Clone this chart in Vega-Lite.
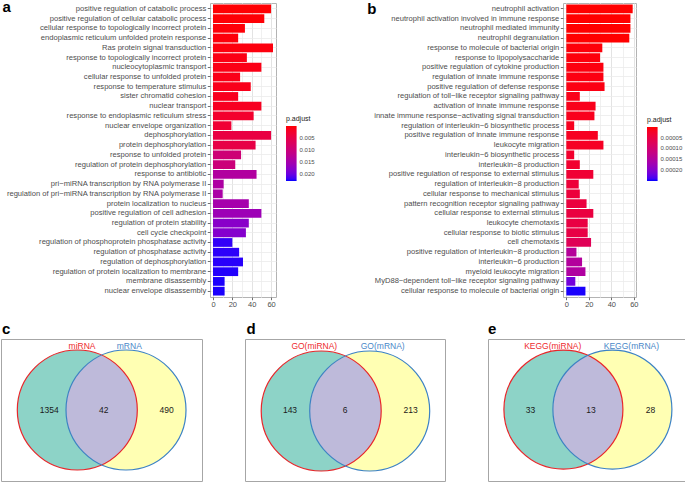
{
  "$schema": "https://vega.github.io/schema/vega-lite/v6.json",
  "background": "white",
  "padding": {"left": 0, "right": 0, "top": -1, "bottom": 0},
  "config": {
    "font": "Liberation Sans",
    "title": {"font": "Liberation Sans", "color": "black"},
    "axis": {"labelFont": "Liberation Sans"},
    "legend": {"labelFont": "Liberation Sans", "titleFont": "Liberation Sans"}
  },
  "spacing": 12,
  "resolve": {"scale": {"color": "independent", "fill": "independent", "stroke": "independent"}},
  "vconcat": [
    {
      "spacing": 0,
      "resolve": {"scale": {"color": "independent", "fill": "independent", "stroke": "independent"}},
      "hconcat": [
        {
          "width": 0.01,
          "height": 294,
          "view": {"stroke": null},
          "data": {"values": []},
          "mark": {"type": "point"}
        },
        {
          "width": 66,
          "height": 294,
          "title": {"text": "a", "anchor": "start", "frame": "bounds", "fontSize": 15, "fontWeight": "bold", "offset": -24, "baseline": "alphabetic", "dx": -3},
          "view": {"stroke": "#B3B3B3", "strokeWidth": 1},
          "data": {"values": [
            {"term": "positive regulation of catabolic process", "count": 60, "padj": 0.0003},
            {"term": "positive regulation of cellular catabolic process", "count": 53, "padj": 0.0004},
            {"term": "cellular response to topologically incorrect protein", "count": 33, "padj": 0.0005},
            {"term": "endoplasmic reticulum unfolded protein response", "count": 26, "padj": 0.0006},
            {"term": "Ras protein signal transduction", "count": 62, "padj": 0.0007},
            {"term": "response to topologically incorrect protein", "count": 35, "padj": 0.0010},
            {"term": "nucleocytoplasmic transport", "count": 50, "padj": 0.0011},
            {"term": "cellular response to unfolded protein", "count": 28, "padj": 0.0012},
            {"term": "response to temperature stimulus", "count": 39, "padj": 0.0014},
            {"term": "sister chromatid cohesion", "count": 26, "padj": 0.0016},
            {"term": "nuclear transport", "count": 50, "padj": 0.0018},
            {"term": "response to endoplasmic reticulum stress", "count": 42, "padj": 0.0027},
            {"term": "nuclear envelope organization", "count": 19, "padj": 0.0034},
            {"term": "dephosphorylation", "count": 60, "padj": 0.0046},
            {"term": "protein dephosphorylation", "count": 44, "padj": 0.0050},
            {"term": "response to unfolded protein", "count": 29, "padj": 0.0096},
            {"term": "regulation of protein dephosphorylation", "count": 23, "padj": 0.0100},
            {"term": "response to antibiotic", "count": 45, "padj": 0.0137},
            {"term": "pri−miRNA transcription by RNA polymerase II", "count": 11, "padj": 0.0141},
            {"term": "regulation of pri−miRNA transcription by RNA polymerase II", "count": 10, "padj": 0.0144},
            {"term": "protein localization to nucleus", "count": 37, "padj": 0.0150},
            {"term": "positive regulation of cell adhesion", "count": 50, "padj": 0.0160},
            {"term": "regulation of protein stability", "count": 37, "padj": 0.0178},
            {"term": "cell cycle checkpoint", "count": 34, "padj": 0.0182},
            {"term": "regulation of phosphoprotein phosphatase activity", "count": 20, "padj": 0.0222},
            {"term": "regulation of phosphatase activity", "count": 27, "padj": 0.0223},
            {"term": "regulation of dephosphorylation", "count": 31, "padj": 0.0224},
            {"term": "regulation of protein localization to membrane", "count": 26, "padj": 0.0225},
            {"term": "membrane disassembly", "count": 12, "padj": 0.0226},
            {"term": "nuclear envelope disassembly", "count": 12, "padj": 0.0226}
          ]},
          "mark": {"type": "bar"},
          "encoding": {
            "y": {"field": "term", "type": "nominal", "sort": null,
              "scale": {"paddingInner": 0.1, "paddingOuter": 0.15},
              "axis": {"title": null, "domain": false, "tickSize": 2.7, "tickColor": "#333333", "tickWidth": 0.7, "labelFontSize": 7.6, "labelColor": "#4D4D4D", "labelPadding": 1.5, "grid": true, "gridColor": "#EBEBEB", "gridWidth": 0.8, "bandPosition": 0.5, "labelLimit": 0, "labelOverlap": false}},
            "x": {"field": "count", "type": "quantitative",
              "scale": {"domain": [-3.1, 65.1], "nice": false, "zero": false},
              "axis": {"title": null, "values": [0, 10, 20, 30, 40, 50, 60], "labelExpr": "datum.value % 20 === 0 ? datum.label : ''", "tickOpacity": {"condition": {"test": "datum.value % 20 === 0", "value": 1}, "value": 0}, "gridColor": {"condition": {"test": "datum.value % 20 === 0", "value": "#E3E3E3"}, "value": "#F0F0F0"}, "domain": false, "tickSize": 2.7, "tickColor": "#333333", "tickWidth": 0.7, "labelFontSize": 7.5, "labelColor": "#4D4D4D", "labelPadding": 1.2, "labelFlush": false, "labelOverlap": false}},
            "color": {"field": "padj", "type": "quantitative",
              "scale": {"domain": [0.0228, 0.0002], "range": ["#0000FF", "#FF0000"], "interpolate": "lab"},
              "legend": {"title": "p.adjust", "orient": "none", "legendX": 76, "legendY": 112, "padding": 0, "titleFontSize": 7, "titleFontWeight": "normal", "titleColor": "#1A1A1A", "titlePadding": 4, "labelFontSize": 6, "labelColor": "#4D4D4D", "labelOffset": 3, "gradientLength": 55, "gradientThickness": 10.6, "gradientStrokeWidth": 0, "values": [0.005, 0.01, 0.015, 0.02], "format": ".3f"}}
          }
        },
        {
          "width": 50,
          "height": 294,
          "view": {"stroke": null},
          "data": {"values": []},
          "mark": {"type": "point"}
        },
        {
          "width": 73,
          "height": 294,
          "title": {"text": "b", "anchor": "start", "frame": "bounds", "fontSize": 15, "fontWeight": "bold", "offset": -26, "baseline": "alphabetic", "dx": -6.5},
          "view": {"stroke": "#B3B3B3", "strokeWidth": 1},
          "data": {"values": [
            {"term": "neutrophil activation", "count": 59, "padj": 0.000000001},
            {"term": "neutrophil activation involved in immune response", "count": 57, "padj": 0.000000001},
            {"term": "neutrophil mediated immunity", "count": 57, "padj": 0.0000000012},
            {"term": "neutrophil degranulation", "count": 56, "padj": 0.0000000015},
            {"term": "response to molecule of bacterial origin", "count": 32, "padj": 0.000004},
            {"term": "response to lipopolysaccharide", "count": 30, "padj": 0.000005},
            {"term": "positive regulation of cytokine production", "count": 33, "padj": 0.000006},
            {"term": "regulation of innate immune response", "count": 33, "padj": 0.000007},
            {"term": "positive regulation of defense response", "count": 34, "padj": 0.000008},
            {"term": "regulation of toll−like receptor signaling pathway", "count": 12, "padj": 0.000012},
            {"term": "activation of innate immune response", "count": 26, "padj": 0.000013},
            {"term": "innate immune response−activating signal transduction", "count": 25, "padj": 0.000015},
            {"term": "regulation of interleukin−6 biosynthetic process", "count": 7, "padj": 0.000016},
            {"term": "positive regulation of innate immune response", "count": 28, "padj": 0.000018},
            {"term": "leukocyte migration", "count": 33, "padj": 0.00002},
            {"term": "interleukin−6 biosynthetic process", "count": 7, "padj": 0.000028},
            {"term": "interleukin−8 production", "count": 12, "padj": 0.00003},
            {"term": "positive regulation of response to external stimulus", "count": 24, "padj": 0.000035},
            {"term": "regulation of interleukin−8 production", "count": 11, "padj": 0.00004},
            {"term": "cellular response to mechanical stimulus", "count": 12, "padj": 0.000042},
            {"term": "pattern recognition receptor signaling pathway", "count": 18, "padj": 0.000045},
            {"term": "cellular response to external stimulus", "count": 24, "padj": 0.000047},
            {"term": "leukocyte chemotaxis", "count": 19, "padj": 0.00005},
            {"term": "cellular response to biotic stimulus", "count": 19, "padj": 0.000052},
            {"term": "cell chemotaxis", "count": 22, "padj": 0.00007},
            {"term": "positive regulation of interleukin−8 production", "count": 9, "padj": 0.000145},
            {"term": "interleukin−6 production", "count": 14, "padj": 0.000148},
            {"term": "myeloid leukocyte migration", "count": 17, "padj": 0.000152},
            {"term": "MyD88−dependent toll−like receptor signaling pathway", "count": 8, "padj": 0.000215},
            {"term": "cellular response to molecule of bacterial origin", "count": 17, "padj": 0.00025}
          ]},
          "mark": {"type": "bar"},
          "encoding": {
            "y": {"field": "term", "type": "nominal", "sort": null,
              "scale": {"paddingInner": 0.1, "paddingOuter": 0.15},
              "axis": {"title": null, "domain": false, "tickSize": 2.7, "tickColor": "#333333", "tickWidth": 0.7, "labelFontSize": 7.6, "labelColor": "#4D4D4D", "labelPadding": 1.5, "grid": true, "gridColor": "#EBEBEB", "gridWidth": 0.8, "bandPosition": 0.5, "labelLimit": 0, "labelOverlap": false}},
            "x": {"field": "count", "type": "quantitative",
              "scale": {"domain": [-2.95, 61.95], "nice": false, "zero": false},
              "axis": {"title": null, "values": [0, 10, 20, 30, 40, 50, 60], "labelExpr": "datum.value % 20 === 0 ? datum.label : ''", "tickOpacity": {"condition": {"test": "datum.value % 20 === 0", "value": 1}, "value": 0}, "gridColor": {"condition": {"test": "datum.value % 20 === 0", "value": "#E3E3E3"}, "value": "#F0F0F0"}, "domain": false, "tickSize": 2.7, "tickColor": "#333333", "tickWidth": 0.7, "labelFontSize": 7.5, "labelColor": "#4D4D4D", "labelPadding": 1.2, "labelFlush": false, "labelOverlap": false}},
            "color": {"field": "padj", "type": "quantitative",
              "scale": {"domain": [0.000252, 0], "range": ["#0000FF", "#FF0000"], "interpolate": "lab"},
              "legend": {"title": "p.adjust", "orient": "none", "legendX": 84, "legendY": 113, "padding": 0, "titleFontSize": 7, "titleFontWeight": "normal", "titleColor": "#1A1A1A", "titlePadding": 4, "labelFontSize": 6, "labelColor": "#4D4D4D", "labelOffset": 3, "gradientLength": 54, "gradientThickness": 10.6, "gradientStrokeWidth": 0, "values": [0.00005, 0.0001, 0.00015, 0.0002], "format": ".5f"}}
          }
        }
      ]
    },
    {
      "spacing": 41,
      "resolve": {"scale": {"color": "independent", "fill": "independent", "stroke": "independent"}},
      "hconcat": [
        {
          "width": 201,
          "height": 142,
          "title": {"text": "c", "anchor": "start", "frame": "group", "fontSize": 15, "fontWeight": "bold", "offset": -10, "baseline": "alphabetic", "dx": 1},
          "view": {"stroke": "#A6A6A6", "strokeWidth": 1},
          "encoding": {
            "x": {"field": "x", "type": "quantitative", "scale": {"domain": [0, 201], "nice": false, "zero": false}, "axis": null},
            "y": {"field": "y", "type": "quantitative", "scale": {"domain": [0, 142], "nice": false, "zero": false, "reverse": true}, "axis": null}
          },
          "layer": [
            {
              "data": {"values": [{"set": "miRNA", "x": 76.3, "y": 71}, {"set": "mRNA", "x": 125, "y": 71}]},
              "mark": {"type": "point", "shape": "circle", "size": 14400, "filled": true, "opacity": 1, "strokeWidth": 0},
              "encoding": {"fill": {"field": "set", "type": "nominal", "scale": {"domain": ["miRNA", "mRNA"], "range": ["#8DD3C7", "#FFFFB3"]}, "legend": null}}
            },
            {
              "data": {"values": [{"x": 100.65, "y": 71}]},
              "mark": {"type": "point", "shape": "M0,-0.914A1,1,0,0,1,0,0.914A1,1,0,0,1,0,-0.914Z", "size": 14400, "filled": true, "fill": "#BEBADA", "opacity": 1, "strokeWidth": 0}
            },
            {
              "data": {"values": [{"set": "miRNA", "x": 76.3, "y": 71}, {"set": "mRNA", "x": 125, "y": 71}]},
              "mark": {"type": "point", "shape": "circle", "size": 14400, "filled": false, "opacity": 1, "strokeWidth": 1.2},
              "encoding": {"stroke": {"field": "set", "type": "nominal", "scale": {"domain": ["miRNA", "mRNA"], "range": ["#E8262A", "#3C82C4"]}, "legend": null}}
            },
            {
              "data": {"values": [{"set": "miRNA", "label": "miRNA", "x": 81, "y": 6.5}, {"set": "mRNA", "label": "mRNA", "x": 128.3, "y": 6.5}]},
              "mark": {"type": "text", "fontSize": 8.5, "font": "Liberation Sans"},
              "encoding": {"text": {"field": "label"}, "color": {"field": "set", "type": "nominal", "scale": {"domain": ["miRNA", "mRNA"], "range": ["#EE2A2E", "#4A88C8"]}, "legend": null}}
            },
            {
              "data": {"values": [{"label": "1354", "x": 48.3, "y": 71}, {"label": "42", "x": 102.7, "y": 71}, {"label": "490", "x": 165.7, "y": 71}]},
              "mark": {"type": "text", "fontSize": 8.5, "font": "Liberation Sans", "color": "#1A1A1A"},
              "encoding": {"text": {"field": "label"}}
            }
          ]
        },
        {
          "width": 200,
          "height": 142,
          "title": {"text": "d", "anchor": "start", "frame": "group", "fontSize": 15, "fontWeight": "bold", "offset": -10, "baseline": "alphabetic", "dx": 1.5},
          "view": {"stroke": "#A6A6A6", "strokeWidth": 1},
          "encoding": {
            "x": {"field": "x", "type": "quantitative", "scale": {"domain": [0, 200], "nice": false, "zero": false}, "axis": null},
            "y": {"field": "y", "type": "quantitative", "scale": {"domain": [0, 142], "nice": false, "zero": false, "reverse": true}, "axis": null}
          },
          "layer": [
            {
              "data": {"values": [{"set": "GO(miRNA)", "x": 76.2, "y": 72}, {"set": "GO(mRNA)", "x": 124.7, "y": 72}]},
              "mark": {"type": "point", "shape": "circle", "size": 14400, "filled": true, "opacity": 1, "strokeWidth": 0},
              "encoding": {"fill": {"field": "set", "type": "nominal", "scale": {"domain": ["GO(miRNA)", "GO(mRNA)"], "range": ["#8DD3C7", "#FFFFB3"]}, "legend": null}}
            },
            {
              "data": {"values": [{"x": 100.45, "y": 72}]},
              "mark": {"type": "point", "shape": "M0,-0.914A1,1,0,0,1,0,0.914A1,1,0,0,1,0,-0.914Z", "size": 14400, "filled": true, "fill": "#BEBADA", "opacity": 1, "strokeWidth": 0}
            },
            {
              "data": {"values": [{"set": "GO(miRNA)", "x": 76.2, "y": 72}, {"set": "GO(mRNA)", "x": 124.7, "y": 72}]},
              "mark": {"type": "point", "shape": "circle", "size": 14400, "filled": false, "opacity": 1, "strokeWidth": 1.2},
              "encoding": {"stroke": {"field": "set", "type": "nominal", "scale": {"domain": ["GO(miRNA)", "GO(mRNA)"], "range": ["#E8262A", "#3C82C4"]}, "legend": null}}
            },
            {
              "data": {"values": [{"set": "GO(miRNA)", "label": "GO(miRNA)", "x": 69.3, "y": 7}, {"set": "GO(mRNA)", "label": "GO(mRNA)", "x": 137.7, "y": 7}]},
              "mark": {"type": "text", "fontSize": 8.5, "font": "Liberation Sans"},
              "encoding": {"text": {"field": "label"}, "color": {"field": "set", "type": "nominal", "scale": {"domain": ["GO(miRNA)", "GO(mRNA)"], "range": ["#EE2A2E", "#4A88C8"]}, "legend": null}}
            },
            {
              "data": {"values": [{"label": "143", "x": 45, "y": 71}, {"label": "6", "x": 100, "y": 71}, {"label": "213", "x": 165.7, "y": 71}]},
              "mark": {"type": "text", "fontSize": 8.5, "font": "Liberation Sans", "color": "#1A1A1A"},
              "encoding": {"text": {"field": "label"}}
            }
          ]
        },
        {
          "width": 200,
          "height": 142,
          "title": {"text": "e", "anchor": "start", "frame": "group", "fontSize": 15, "fontWeight": "bold", "offset": -10, "baseline": "alphabetic", "dx": 0},
          "view": {"stroke": "#A6A6A6", "strokeWidth": 1},
          "encoding": {
            "x": {"field": "x", "type": "quantitative", "scale": {"domain": [0, 200], "nice": false, "zero": false}, "axis": null},
            "y": {"field": "y", "type": "quantitative", "scale": {"domain": [0, 142], "nice": false, "zero": false, "reverse": true}, "axis": null}
          },
          "layer": [
            {
              "data": {"values": [{"set": "KEGG(miRNA)", "x": 75.4, "y": 70.6}, {"set": "KEGG(mRNA)", "x": 124.4, "y": 70.6}]},
              "mark": {"type": "point", "shape": "circle", "size": 14161, "filled": true, "opacity": 1, "strokeWidth": 0},
              "encoding": {"fill": {"field": "set", "type": "nominal", "scale": {"domain": ["KEGG(miRNA)", "KEGG(mRNA)"], "range": ["#8DD3C7", "#FFFFB3"]}, "legend": null}}
            },
            {
              "data": {"values": [{"x": 99.9, "y": 70.6}]},
              "mark": {"type": "point", "shape": "M0,-0.91A1,1,0,0,1,0,0.91A1,1,0,0,1,0,-0.91Z", "size": 14161, "filled": true, "fill": "#BEBADA", "opacity": 1, "strokeWidth": 0}
            },
            {
              "data": {"values": [{"set": "KEGG(miRNA)", "x": 75.4, "y": 70.6}, {"set": "KEGG(mRNA)", "x": 124.4, "y": 70.6}]},
              "mark": {"type": "point", "shape": "circle", "size": 14161, "filled": false, "opacity": 1, "strokeWidth": 1.2},
              "encoding": {"stroke": {"field": "set", "type": "nominal", "scale": {"domain": ["KEGG(miRNA)", "KEGG(mRNA)"], "range": ["#E8262A", "#3C82C4"]}, "legend": null}}
            },
            {
              "data": {"values": [{"set": "KEGG(miRNA)", "label": "KEGG(miRNA)", "x": 64.7, "y": 6.7}, {"set": "KEGG(mRNA)", "label": "KEGG(mRNA)", "x": 143.4, "y": 6.7}]},
              "mark": {"type": "text", "fontSize": 8.5, "font": "Liberation Sans"},
              "encoding": {"text": {"field": "label"}, "color": {"field": "set", "type": "nominal", "scale": {"domain": ["KEGG(miRNA)", "KEGG(mRNA)"], "range": ["#EE2A2E", "#4A88C8"]}, "legend": null}}
            },
            {
              "data": {"values": [{"label": "33", "x": 42.4, "y": 70.6}, {"label": "13", "x": 103, "y": 70.6}, {"label": "28", "x": 162.4, "y": 70.6}]},
              "mark": {"type": "text", "fontSize": 8.5, "font": "Liberation Sans", "color": "#1A1A1A"},
              "encoding": {"text": {"field": "label"}}
            }
          ]
        }
      ]
    }
  ]
}
